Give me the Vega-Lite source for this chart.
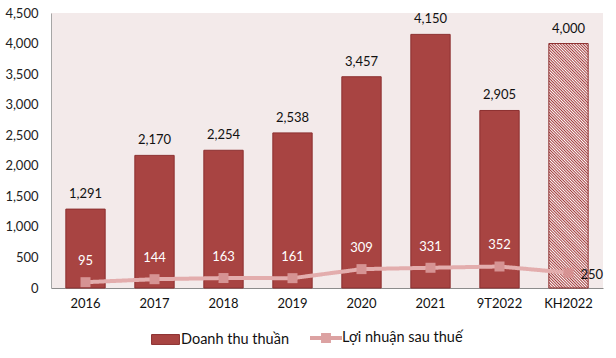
{
  "$schema": "https://vega.github.io/schema/vega-lite/v6.json",
  "width": 552,
  "height": 275,
  "autosize": {"type": "none"},
  "padding": {"left": 51, "top": 13, "right": 13, "bottom": 70},
  "background": "#ffffff",
  "config": {
    "view": {"fill": "#f3eaea", "stroke": null},
    "font": "Lato",
    "text": {"font": "Lato", "fontSize": 13},
    "axisY": {"title": null, "grid": false, "ticks": false, "labelPadding": 13, "domainColor": "#a6a6a6", "labelFont": "Lato", "labelFontSize": 13, "labelColor": "#222222"}
  },
  "data": {
    "values": [
      {"year": "2016", "revenue": 1291, "profit": 95},
      {"year": "2017", "revenue": 2170, "profit": 144},
      {"year": "2018", "revenue": 2254, "profit": 163},
      {"year": "2019", "revenue": 2538, "profit": 161},
      {"year": "2020", "revenue": 3457, "profit": 309},
      {"year": "2021", "revenue": 4150, "profit": 331},
      {"year": "9T2022", "revenue": 2905, "profit": 352},
      {"year": "KH2022", "revenue": 4000, "profit": 250}
    ]
  },
  "encoding": {
    "x": {
      "field": "year", "type": "nominal", "sort": null,
      "scale": {"paddingInner": 0.43, "paddingOuter": 0.215},
      "axis": {"title": null, "labelAngle": 0, "ticks": false, "labelPadding": 9, "domainColor": "#8c8c8c", "domainWidth": 1, "labelFont": "Lato", "labelFontSize": 13, "labelColor": "#111111"}
    }
  },
  "layer": [
    {
      "transform": [{"filter": "datum.year !== 'KH2022'"}],
      "mark": {"type": "bar", "stroke": "#8c3030", "strokeWidth": 1},
      "encoding": {
        "y": {
          "field": "revenue", "type": "quantitative",
          "scale": {"domain": [0, 4500]},
          "axis": {"title": null, "values": [0, 500, 1000, 1500, 2000, 2500, 3000, 3500, 4000, 4500], "format": ",d"}
        },
        "color": {
          "datum": "Doanh thu thuần",
          "scale": {"range": ["#a84442"]},
          "legend": {
            "title": null,
            "orient": "none",
            "legendX": 99,
            "legendY": 311,
            "direction": "horizontal",
            "symbolSize": 900,
            "symbolType": "M-0.93,-0.33H0.93V0.33H-0.93Z",
            "symbolStrokeWidth": 1,
            "symbolStrokeColor": "#8c3030",
            "symbolOpacity": 1,
            "labelFont": "Lato",
            "labelFontSize": 14.5,
            "labelColor": "#111111",
            "labelOffset": 0
          }
        }
      }
    },
    {
      "transform": [{"filter": "datum.year === 'KH2022'"}],
      "mark": {
        "type": "bar", "stroke": "#8c3030", "strokeWidth": 1,
        "fill": {
          "gradient": "linear", "x1": 0, "y1": 1, "x2": 0.1827, "y2": -0.1319,
          "stops": [
            {"offset":0,"color":"#a33a3a"},{"offset":0.005,"color":"#fff"},{"offset":0.01,"color":"#a33a3a"},{"offset":0.015,"color":"#fff"},{"offset":0.02,"color":"#a33a3a"},{"offset":0.025,"color":"#fff"},{"offset":0.03,"color":"#a33a3a"},{"offset":0.035,"color":"#fff"},{"offset":0.04,"color":"#a33a3a"},{"offset":0.045,"color":"#fff"},
            {"offset":0.05,"color":"#a33a3a"},{"offset":0.055,"color":"#fff"},{"offset":0.06,"color":"#a33a3a"},{"offset":0.065,"color":"#fff"},{"offset":0.07,"color":"#a33a3a"},{"offset":0.075,"color":"#fff"},{"offset":0.08,"color":"#a33a3a"},{"offset":0.085,"color":"#fff"},{"offset":0.09,"color":"#a33a3a"},{"offset":0.095,"color":"#fff"},
            {"offset":0.1,"color":"#a33a3a"},{"offset":0.105,"color":"#fff"},{"offset":0.11,"color":"#a33a3a"},{"offset":0.115,"color":"#fff"},{"offset":0.12,"color":"#a33a3a"},{"offset":0.125,"color":"#fff"},{"offset":0.13,"color":"#a33a3a"},{"offset":0.135,"color":"#fff"},{"offset":0.14,"color":"#a33a3a"},{"offset":0.145,"color":"#fff"},
            {"offset":0.15,"color":"#a33a3a"},{"offset":0.155,"color":"#fff"},{"offset":0.16,"color":"#a33a3a"},{"offset":0.165,"color":"#fff"},{"offset":0.17,"color":"#a33a3a"},{"offset":0.175,"color":"#fff"},{"offset":0.18,"color":"#a33a3a"},{"offset":0.185,"color":"#fff"},{"offset":0.19,"color":"#a33a3a"},{"offset":0.195,"color":"#fff"},
            {"offset":0.2,"color":"#a33a3a"},{"offset":0.205,"color":"#fff"},{"offset":0.21,"color":"#a33a3a"},{"offset":0.215,"color":"#fff"},{"offset":0.22,"color":"#a33a3a"},{"offset":0.225,"color":"#fff"},{"offset":0.23,"color":"#a33a3a"},{"offset":0.235,"color":"#fff"},{"offset":0.24,"color":"#a33a3a"},{"offset":0.245,"color":"#fff"},
            {"offset":0.25,"color":"#a33a3a"},{"offset":0.255,"color":"#fff"},{"offset":0.26,"color":"#a33a3a"},{"offset":0.265,"color":"#fff"},{"offset":0.27,"color":"#a33a3a"},{"offset":0.275,"color":"#fff"},{"offset":0.28,"color":"#a33a3a"},{"offset":0.285,"color":"#fff"},{"offset":0.29,"color":"#a33a3a"},{"offset":0.295,"color":"#fff"},
            {"offset":0.3,"color":"#a33a3a"},{"offset":0.305,"color":"#fff"},{"offset":0.31,"color":"#a33a3a"},{"offset":0.315,"color":"#fff"},{"offset":0.32,"color":"#a33a3a"},{"offset":0.325,"color":"#fff"},{"offset":0.33,"color":"#a33a3a"},{"offset":0.335,"color":"#fff"},{"offset":0.34,"color":"#a33a3a"},{"offset":0.345,"color":"#fff"},
            {"offset":0.35,"color":"#a33a3a"},{"offset":0.355,"color":"#fff"},{"offset":0.36,"color":"#a33a3a"},{"offset":0.365,"color":"#fff"},{"offset":0.37,"color":"#a33a3a"},{"offset":0.375,"color":"#fff"},{"offset":0.38,"color":"#a33a3a"},{"offset":0.385,"color":"#fff"},{"offset":0.39,"color":"#a33a3a"},{"offset":0.395,"color":"#fff"},
            {"offset":0.4,"color":"#a33a3a"},{"offset":0.405,"color":"#fff"},{"offset":0.41,"color":"#a33a3a"},{"offset":0.415,"color":"#fff"},{"offset":0.42,"color":"#a33a3a"},{"offset":0.425,"color":"#fff"},{"offset":0.43,"color":"#a33a3a"},{"offset":0.435,"color":"#fff"},{"offset":0.44,"color":"#a33a3a"},{"offset":0.445,"color":"#fff"},
            {"offset":0.45,"color":"#a33a3a"},{"offset":0.455,"color":"#fff"},{"offset":0.46,"color":"#a33a3a"},{"offset":0.465,"color":"#fff"},{"offset":0.47,"color":"#a33a3a"},{"offset":0.475,"color":"#fff"},{"offset":0.48,"color":"#a33a3a"},{"offset":0.485,"color":"#fff"},{"offset":0.49,"color":"#a33a3a"},{"offset":0.495,"color":"#fff"},
            {"offset":0.5,"color":"#a33a3a"},{"offset":0.505,"color":"#fff"},{"offset":0.51,"color":"#a33a3a"},{"offset":0.515,"color":"#fff"},{"offset":0.52,"color":"#a33a3a"},{"offset":0.525,"color":"#fff"},{"offset":0.53,"color":"#a33a3a"},{"offset":0.535,"color":"#fff"},{"offset":0.54,"color":"#a33a3a"},{"offset":0.545,"color":"#fff"},
            {"offset":0.55,"color":"#a33a3a"},{"offset":0.555,"color":"#fff"},{"offset":0.56,"color":"#a33a3a"},{"offset":0.565,"color":"#fff"},{"offset":0.57,"color":"#a33a3a"},{"offset":0.575,"color":"#fff"},{"offset":0.58,"color":"#a33a3a"},{"offset":0.585,"color":"#fff"},{"offset":0.59,"color":"#a33a3a"},{"offset":0.595,"color":"#fff"},
            {"offset":0.6,"color":"#a33a3a"},{"offset":0.605,"color":"#fff"},{"offset":0.61,"color":"#a33a3a"},{"offset":0.615,"color":"#fff"},{"offset":0.62,"color":"#a33a3a"},{"offset":0.625,"color":"#fff"},{"offset":0.63,"color":"#a33a3a"},{"offset":0.635,"color":"#fff"},{"offset":0.64,"color":"#a33a3a"},{"offset":0.645,"color":"#fff"},
            {"offset":0.65,"color":"#a33a3a"},{"offset":0.655,"color":"#fff"},{"offset":0.66,"color":"#a33a3a"},{"offset":0.665,"color":"#fff"},{"offset":0.67,"color":"#a33a3a"},{"offset":0.675,"color":"#fff"},{"offset":0.68,"color":"#a33a3a"},{"offset":0.685,"color":"#fff"},{"offset":0.69,"color":"#a33a3a"},{"offset":0.695,"color":"#fff"},
            {"offset":0.7,"color":"#a33a3a"},{"offset":0.705,"color":"#fff"},{"offset":0.71,"color":"#a33a3a"},{"offset":0.715,"color":"#fff"},{"offset":0.72,"color":"#a33a3a"},{"offset":0.725,"color":"#fff"},{"offset":0.73,"color":"#a33a3a"},{"offset":0.735,"color":"#fff"},{"offset":0.74,"color":"#a33a3a"},{"offset":0.745,"color":"#fff"},
            {"offset":0.75,"color":"#a33a3a"},{"offset":0.755,"color":"#fff"},{"offset":0.76,"color":"#a33a3a"},{"offset":0.765,"color":"#fff"},{"offset":0.77,"color":"#a33a3a"},{"offset":0.775,"color":"#fff"},{"offset":0.78,"color":"#a33a3a"},{"offset":0.785,"color":"#fff"},{"offset":0.79,"color":"#a33a3a"},{"offset":0.795,"color":"#fff"},
            {"offset":0.8,"color":"#a33a3a"},{"offset":0.805,"color":"#fff"},{"offset":0.81,"color":"#a33a3a"},{"offset":0.815,"color":"#fff"},{"offset":0.82,"color":"#a33a3a"},{"offset":0.825,"color":"#fff"},{"offset":0.83,"color":"#a33a3a"},{"offset":0.835,"color":"#fff"},{"offset":0.84,"color":"#a33a3a"},{"offset":0.845,"color":"#fff"},
            {"offset":0.85,"color":"#a33a3a"},{"offset":0.855,"color":"#fff"},{"offset":0.86,"color":"#a33a3a"},{"offset":0.865,"color":"#fff"},{"offset":0.87,"color":"#a33a3a"},{"offset":0.875,"color":"#fff"},{"offset":0.88,"color":"#a33a3a"},{"offset":0.885,"color":"#fff"},{"offset":0.89,"color":"#a33a3a"},{"offset":0.895,"color":"#fff"},
            {"offset":0.9,"color":"#a33a3a"},{"offset":0.905,"color":"#fff"},{"offset":0.91,"color":"#a33a3a"},{"offset":0.915,"color":"#fff"},{"offset":0.92,"color":"#a33a3a"},{"offset":0.925,"color":"#fff"},{"offset":0.93,"color":"#a33a3a"},{"offset":0.935,"color":"#fff"},{"offset":0.94,"color":"#a33a3a"},{"offset":0.945,"color":"#fff"},
            {"offset":0.95,"color":"#a33a3a"},{"offset":0.955,"color":"#fff"},{"offset":0.96,"color":"#a33a3a"},{"offset":0.965,"color":"#fff"},{"offset":0.97,"color":"#a33a3a"},{"offset":0.975,"color":"#fff"},{"offset":0.98,"color":"#a33a3a"},{"offset":0.985,"color":"#fff"},{"offset":0.99,"color":"#a33a3a"},{"offset":0.995,"color":"#fff"},
            {"offset":1,"color":"#a33a3a"}
          ]
        }
      },
      "encoding": {
        "y": {"field": "revenue", "type": "quantitative", "axis": {"title": null, "values": [0, 500, 1000, 1500, 2000, 2500, 3000, 3500, 4000, 4500], "format": ",d"}}
      }
    },
    {
      "mark": {"type": "text", "baseline": "bottom", "dy": -8, "color": "#111111", "font": "Lato", "fontSize": 13},
      "encoding": {
        "y": {"field": "revenue", "type": "quantitative", "axis": {"title": null, "values": [0, 500, 1000, 1500, 2000, 2500, 3000, 3500, 4000, 4500], "format": ",d"}},
        "text": {"field": "revenue", "type": "quantitative", "format": ","}
      }
    },
    {
      "mark": {"type": "line", "strokeWidth": 4, "color": "#e3adad"},
      "encoding": {
        "y": {"field": "profit", "type": "quantitative", "axis": {"title": null, "values": [0, 500, 1000, 1500, 2000, 2500, 3000, 3500, 4000, 4500], "format": ",d"}},
        "strokeDash": {
          "datum": "Lợi nhuận sau thuế",
          "scale": {"range": [[1, 0]]},
          "legend": {
            "title": null,
            "orient": "none",
            "legendX": 259,
            "legendY": 309,
            "direction": "horizontal",
            "symbolSize": 1024,
            "symbolType": "M-1,-0.12H1V0.12H-1ZM-0.31,-0.31H0.31V0.31H-0.31Z",
            "symbolFillColor": "#dca2a2",
            "symbolStrokeColor": "#dca2a2",
            "symbolStrokeWidth": 0,
            "symbolOpacity": 1,
            "symbolDash": [1, 0],
            "labelFont": "Lato",
            "labelFontSize": 14.5,
            "labelColor": "#111111",
            "labelOffset": 0
          }
        }
      }
    },
    {
      "mark": {"type": "point", "shape": "square", "size": 100, "filled": true, "fill": "#d69393", "opacity": 1, "strokeWidth": 0},
      "encoding": {
        "y": {"field": "profit", "type": "quantitative", "axis": {"title": null, "values": [0, 500, 1000, 1500, 2000, 2500, 3000, 3500, 4000, 4500], "format": ",d"}}
      }
    },
    {
      "transform": [{"filter": "datum.year !== 'KH2022'"}],
      "mark": {"type": "text", "baseline": "middle", "dy": -21, "color": "#ffffff", "font": "Lato", "fontSize": 13},
      "encoding": {
        "y": {"field": "profit", "type": "quantitative", "axis": {"title": null, "values": [0, 500, 1000, 1500, 2000, 2500, 3000, 3500, 4000, 4500], "format": ",d"}},
        "text": {"field": "profit", "type": "quantitative"}
      }
    },
    {
      "transform": [{"filter": "datum.year === 'KH2022'"}],
      "mark": {"type": "text", "baseline": "middle", "align": "left", "dx": 12, "dy": 2, "color": "#111111", "font": "Lato", "fontSize": 13},
      "encoding": {
        "y": {"field": "profit", "type": "quantitative", "axis": {"title": null, "values": [0, 500, 1000, 1500, 2000, 2500, 3000, 3500, 4000, 4500], "format": ",d"}},
        "text": {"field": "profit", "type": "quantitative"}
      }
    }
  ]
}
